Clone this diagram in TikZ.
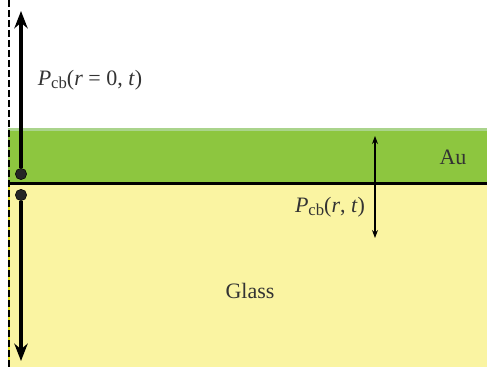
\documentclass[tikz,border=0pt]{standalone}
\usepackage{fontspec}
\setmainfont{Liberation Serif}
\usetikzlibrary{arrows.meta}
\definecolor{gold}{RGB}{141,198,63}
\definecolor{goldedge}{RGB}{170,212,140}
\definecolor{glass}{RGB}{250,244,162}
\definecolor{glassedge}{RGB}{228,226,20}
\newcommand{\Pcb}{\textit{P}\raisebox{-0.35ex}{\fontsize{12.5}{14}\selectfont cb}}

\begin{document}
\begin{tikzpicture}[x=0.75pt,y=-0.75pt,>=Stealth,bigarrow/.style={-{Stealth[length=13pt,width=10pt]},line width=2.3pt},smallarrow/.style={-{Stealth[length=6pt,width=4.5pt]},line width=0.8pt},dot/.style={circle,fill=black!85,draw=black,inner sep=0pt,minimum size=8.5pt},label/.style={font=\fontsize{16.5}{19}\selectfont,text=black!80,inner sep=0pt}]
\useasboundingbox (0,0) rectangle (487,367);
\fill[glass] (8,185) rectangle (487,367); \fill[gold] (8,128) rectangle (487,183); \fill[goldedge] (8,128) rectangle (487,131);
\draw[glassedge,line width=1.2pt] (9,186)--(9,367);
\draw[dash pattern=on 5.5pt off 2pt,line width=0.8pt] (9,0)--(9,367);
\coordinate (ifL) at (8,183.5); \coordinate (ifR) at (487,183.5);
\draw[line width=1.8pt] (ifL)--(ifR);
\node[dot] (top) at (21,174) {}; \node[dot] (bottom) at (21,195) {};
\coordinate (upTip) at (21,11); \coordinate (downTip) at (21,361);
\draw[bigarrow] (top)--(upTip); \draw[bigarrow] (bottom)--(downTip);
\coordinate (base) at (375,183.5); \coordinate (smallUp) at (375,136); \coordinate (smallDown) at (375,238);
\draw[smallarrow] (base)--(smallUp); \draw[smallarrow] (base)--(smallDown);
\node[label] (p0) at (90,80) {\Pcb(\textit{r} = 0, \textit{t})};
\node[label] (pr) at (330,207) {\Pcb(\textit{r}, \textit{t})};
\node[label] (au) at (453,157) {Au};
\node[label] (gl) at (250,291) {Glass};
\end{tikzpicture}
\end{document}
